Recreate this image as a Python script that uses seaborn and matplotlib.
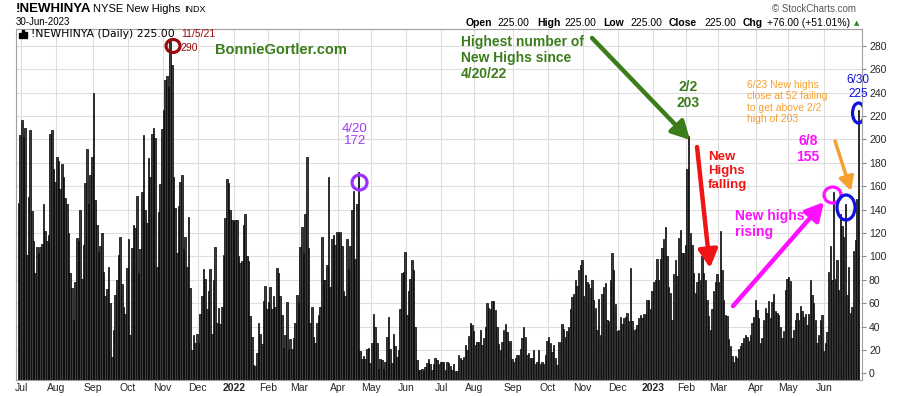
import numpy as np
import pandas as pd
import matplotlib
matplotlib.use('Agg')
import matplotlib.pyplot as plt
import seaborn as sns
from matplotlib.patches import Ellipse, Rectangle

# NYSE new highs, daily values, one list per month
jun21 = [146, 204]
jul21 = [217, 202, 210, 101, 151, 208, 139, 113, 86, 108, 103, 108, 111, 145, 122, 113, 118, 205, 208, 175, 164]
aug21 = [185, 182, 158, 179, 168, 150, 145, 120, 86, 73, 46, 78, 116, 113, 140, 81, 110, 163, 192, 145, 170, 185]
sep21 = [240, 148, 127, 104, 109, 120, 87, 66, 72, 91, 60, 14, 37, 67, 80, 101, 117, 76, 57, 51, 90]
oct21 = [115, 33, 107, 127, 124, 152, 86, 106, 155, 204, 140, 129, 184, 168, 205, 210, 201, 91, 138, 162, 209]
nov21 = [225, 251, 254, 245, 284, 264, 168, 141, 103, 143, 164, 170, 106, 117, 91, 134, 73, 20, 33, 26, 34]
dec21 = [26, 51, 66, 89, 81, 55, 70, 89, 34, 80, 108, 43, 56, 42, 57, 101, 133, 166, 163, 140, 131, 130]
jan22 = [131, 131, 100, 94, 96, 127, 136, 100, 96, 49, 31, 7, 6, 17, 43, 34, 25, 62, 75, 55]
feb22 = [61, 74, 55, 66, 57, 90, 86, 66, 50, 22, 33, 61, 21, 29, 21, 30, 43, 67, 60]
mar22 = [108, 125, 103, 136, 185, 107, 43, 57, 31, 26, 43, 50, 57, 117, 80, 80, 93, 168, 74, 115, 118, 110, 121]
apr22 = [120, 121, 109, 70, 66, 115, 89, 109, 140, 156, 98, 145, 172, 19, 12, 15, 12, 21, 22, 9]
may22 = [26, 51, 40, 26, 4, 12, 11, 4, 10, 31, 48, 21, 9, 34, 23, 14, 20, 55, 86, 87, 104]
jun22 = [50, 70, 81, 97, 88, 40, 11, 3, 3, 4, 2, 5, 9, 12, 8, 3, 8, 13, 11, 8, 10]
jul22 = [10, 10, 3, 10, 9, 6, 3, 8, 2, 2, 16, 13, 11, 14, 24, 20, 32, 43, 41, 36]
aug22 = [24, 27, 27, 37, 24, 30, 40, 60, 56, 55, 62, 62, 54, 40, 25, 20, 27, 37, 42, 35, 28, 28, 12]
sep22 = [10, 13, 16, 16, 21, 30, 40, 31, 16, 17, 13, 13, 20, 8, 10, 20, 8, 10, 8, 16, 28]
oct22 = [31, 26, 18, 24, 13, 7, 27, 27, 42, 38, 31, 36, 40, 55, 65, 68, 80, 75, 88, 93, 97]
nov22 = [66, 84, 78, 76, 73, 80, 63, 56, 37, 64, 33, 68, 74, 77, 46, 45, 80, 103, 88, 59, 36]
dec22 = [37, 48, 42, 47, 48, 52, 45, 90, 45, 37, 38, 41, 47, 50, 47, 51, 51, 63, 63, 55, 70]
jan23 = [78, 80, 98, 80, 98, 107, 115, 125, 100, 74, 69, 46, 85, 97, 83, 116, 123, 103, 103, 110]
feb23 = [175, 203, 120, 110, 86, 69, 78, 86, 80, 100, 86, 80, 63, 49, 37, 55, 70, 78, 85]
mar23 = [78, 122, 88, 63, 50, 49, 29, 23, 15, 10, 15, 13, 21, 23, 26, 30, 33, 31, 28, 33, 43, 48, 63]
apr23 = [54, 47, 26, 30, 46, 56, 52, 62, 47, 61, 68, 53, 52, 50, 40, 30, 36, 71, 81]
may23 = [82, 79, 30, 37, 46, 52, 46, 58, 53, 48, 51, 41, 51, 80, 67, 60, 46, 26, 33, 46, 50, 19]
jun23 = [26, 35, 87, 109, 80, 155, 81, 97, 71, 136, 126, 117, 145, 67, 91, 52, 57, 105, 114, 149, 225]

months = [jul21, aug21, sep21, oct21, nov21, dec21, jan22, feb22, mar22, apr22, may22, jun22,
          jul22, aug22, sep22, oct22, nov22, dec22, jan23, feb23, mar23, apr23, may23, jun23]
month_labels = ['Jul', 'Aug', 'Sep', 'Oct', 'Nov', 'Dec', '2022', 'Feb', 'Mar', 'Apr', 'May', 'Jun',
                'Jul', 'Aug', 'Sep', 'Oct', 'Nov', 'Dec', '2023', 'Feb', 'Mar', 'Apr', 'May', 'Jun']

values = list(jun21)
starts = []
for m in months:
    starts.append(len(values))
    values += m
starts = np.array(starts)

df = pd.DataFrame({'day': np.arange(len(values)), 'highs': values})

sns.set_style('white')
plt.rcParams['font.family'] = ['Liberation Sans', 'DejaVu Sans']

fig = plt.figure(figsize=(9, 3.96), dpi=100)
ax = fig.add_axes([16 / 900, 16 / 396, 846 / 900, 351 / 396])

sns.barplot(data=df, x='day', y='highs', native_scale=True, color='#3c3c3c', saturation=1,
            edgecolor='black', linewidth=0.5, width=0.9, errorbar=None, ax=ax)

ybot = -5.7
# stockcharts draws the bars up from the bottom of the frame
for p in ax.patches:
    p.set_height(p.get_height() - ybot)
    p.set_y(ybot)

ax.set_xlim(-1.5, 506)
ax.set_ylim(ybot, 294.5)
ax.set_xlabel('')
ax.set_ylabel('')

ax.set_xticks(starts - 0.5)
ax.set_xticklabels(month_labels, fontsize=7.5)
for t in ax.get_xticklabels():
    if t.get_text() in ('2022', '2023'):
        t.set_fontweight('bold')
ax.yaxis.tick_right()
ax.set_yticks(range(0, 281, 20))
ax.set_yticklabels([str(v) for v in range(0, 281, 20)], fontsize=7.5)
ax.tick_params(axis='x', length=0, pad=2)
ax.tick_params(axis='y', length=3, color='#888888', pad=2)
ax.grid(True, color='#dedede', lw=0.8)
ax.set_axisbelow(True)
for s in ax.spines.values():
    s.set_color('#a0a0a0')
    s.set_linewidth(0.8)


def P(xp, yp):
    # picture pixel -> data coordinates
    return (xp - 21.8) / 1.667 + 2, (373.3 - yp) / 1.169


def ring(xp, yp, w, h, color):
    c = P(xp, yp)
    ax.add_patch(Ellipse(c, w / 1.667, h / 1.169, fill=False, ec=color, lw=2.3, zorder=5))


def arrow(tail, tip, color, lw=3.2, hl=0.6, hw=0.32, ms=18):
    ax.annotate('', xy=P(*tip), xytext=P(*tail),
                arrowprops=dict(arrowstyle=f'-|>,head_length={hl},head_width={hw}',
                                color=color, lw=lw, mutation_scale=ms, shrinkA=0, shrinkB=0),
                zorder=6)


def label(xp, yp, s, color, size, bold=True, ha='left', ls=1.2, family=None):
    x, y = P(xp, yp)
    kw = dict(color=color, fontsize=size, ha=ha, va='center', linespacing=ls, zorder=7,
              fontweight='bold' if bold else 'normal')
    if family:
        kw['family'] = family
    ax.text(x, y, s, **kw)


green = '#3a7d1a'
red = '#f01515'
magenta = '#ff10ff'
orange = '#f5a030'
blue = '#1010e0'
darkred = '#9a0a0a'
purple = '#a23cf0'

# legend line inside the frame
label(31, 34, '!NEWHINYA (Daily) 225.00', 'black', 7.8, bold=False, family='DejaVu Sans')
label(181, 34, '11/5/21', darkred, 7.5, bold=False)
for i, hgt in enumerate([5, 8, 6]):
    fig.add_artist(Rectangle(((19 + i * 3) / 900, (396 - 38) / 396), 2 / 900, hgt / 396,
                             transform=fig.transFigure, color='black'))

ring(173, 46, 14, 13, darkred)
label(180, 48, '290', darkred, 7.5, bold=False)

label(215, 50, 'BonnieGortler.com', green, 10.5)
label(461, 58, 'Highest number of\nNew Highs since\n4/20/22', green, 10)
arrow((592, 38), (690, 140), green)
label(688, 95, '2/2\n203', green, 10, ha='center')

ring(359.5, 182.5, 15, 15, '#9b30ff')
label(355, 135, '4/20\n172', purple, 9.5, bold=False, ha='center', ls=1.1)

label(708, 171, 'New\nHighs\nfalling', red, 9.5)
arrow((697, 147), (710, 268), red)

label(808, 149, '6/8\n155', magenta, 10, ha='center')
label(735, 224, 'New highs\nrising', magenta, 10)
arrow((733, 306), (824, 202), magenta)
ring(832.5, 195, 17, 16, magenta)

label(747, 102, '6/23 New highs\nclose at 52 failing\nto get above 2/2\nhigh of 203', orange, 7.5, bold=False, ls=1.15)
arrow((835, 141), (851, 191), orange, lw=2.5, ms=14)
ring(846, 207.5, 18, 25, blue)

label(858, 87, '6/30\n225', blue, 8.5, bold=False, ha='center', ls=1.3)
ring(858.5, 113, 12, 20, blue)

# header
def ftext(xp, yp, s, size, bold=False, color='black', family=None):
    kw = dict(fontsize=size, color=color, va='center', ha='left',
              fontweight='bold' if bold else 'normal')
    if family:
        kw['family'] = family
    fig.text(xp / 900, 1 - yp / 396, s, **kw)

ftext(16, 9, '!NEWHINYA', 9.5, bold=True)
ftext(93, 9, 'NYSE New Highs', 8)
ftext(184, 10, 'INDX', 6.5)
ftext(16, 22, '30-Jun-2023', 7)
ftext(772, 9, '© StockCharts.com', 7, color='#555555')

ohlc = [(466, 'Open', True), (497, '225.00', False), (537, 'High', True), (564, '225.00', False),
        (603, 'Low', True), (630, '225.00', False), (669, 'Close', True), (704, '225.00', False),
        (743, 'Chg', True), (767, '+76.00 (+51.01%)', False)]
for xp, s, b in ohlc:
    ftext(xp, 23, s, 7.5, bold=b)
ftext(854, 23, '▲', 5, color='#2a8a2a', family='DejaVu Sans')

fig.savefig('out.png', dpi=100)
